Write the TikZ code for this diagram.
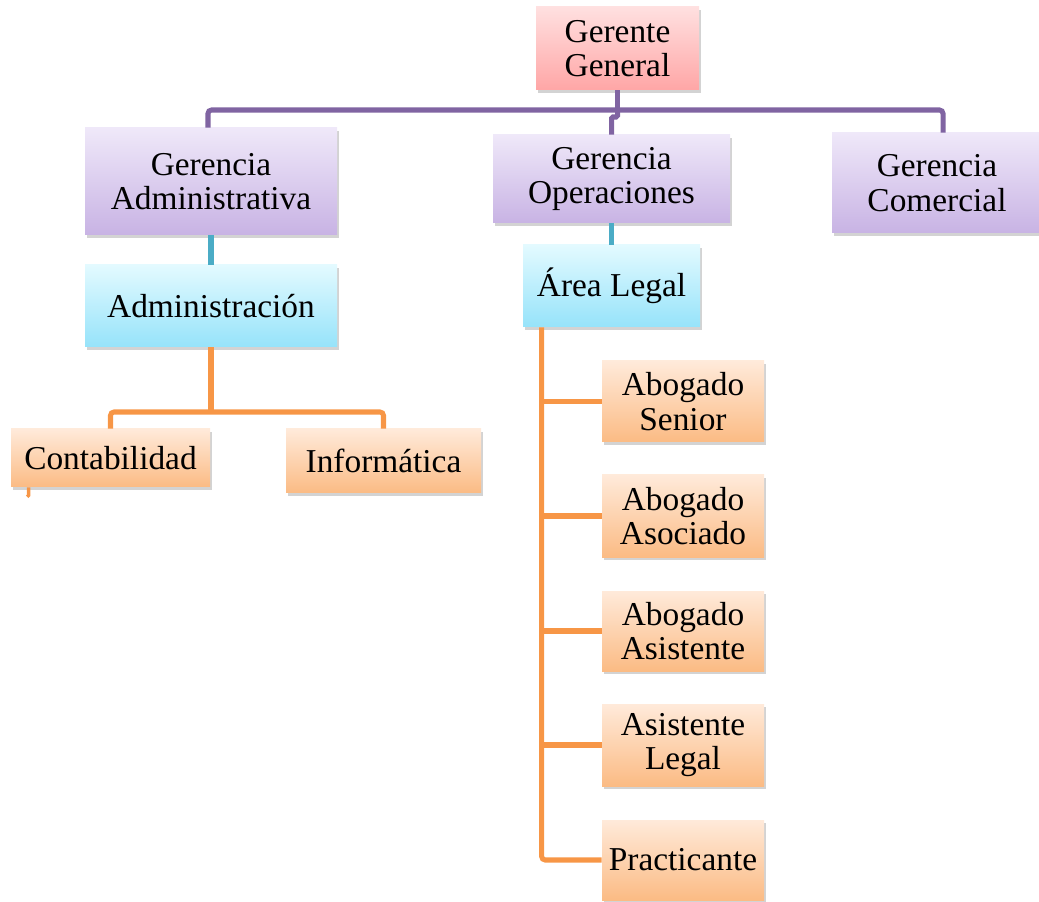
\documentclass[tikz,border=0pt]{standalone}
\usepackage{fontspec}
\setmainfont{Liberation Serif}
\usepackage{tikz}
\usetikzlibrary{calc}
\usetikzlibrary{shadows}
\definecolor{rosaA}{HTML}{FFE0E0}
\definecolor{rosaB}{HTML}{FFA6A6}
\definecolor{lilaA}{HTML}{EFE8F9}
\definecolor{lilaB}{HTML}{C8B3E4}
\definecolor{celA}{HTML}{E3FAFF}
\definecolor{celB}{HTML}{96E3FA}
\definecolor{narA}{HTML}{FFEADA}
\definecolor{narB}{HTML}{FBBB84}
\definecolor{lmor}{HTML}{8064A2}
\definecolor{lazul}{HTML}{4BACC6}
\definecolor{lnar}{HTML}{F79646}
\tikzset{bx/.style={rectangle, inner sep=0pt, align=center, font=\fontsize{19}{19.6}\selectfont,
  drop shadow={opacity=0.35, shadow xshift=1pt, shadow yshift=-1.5pt}}}
\tikzset{sz/.style 2 args={minimum width=#1*0.02cm, minimum height=#2*0.02cm}}
\tikzset{rosa/.style={bx, top color=rosaA, bottom color=rosaB}}
\tikzset{lila/.style={bx, top color=lilaA, bottom color=lilaB}}
\tikzset{cel/.style={bx, top color=celA, bottom color=celB}}
\tikzset{nar/.style={bx, top color=narA, bottom color=narB}}
\tikzset{lm/.style={lmor, line width=2.85pt, rounded corners=2pt}}
\tikzset{lz/.style={lazul, line width=2.85pt}}
\tikzset{ln/.style={lnar, line width=2.85pt, rounded corners=2pt}}

\begin{document}
\begin{tikzpicture}[x=0.02cm, y=-0.02cm]
  \useasboundingbox (0,0) rectangle (1039,902);
  % cargos
  \node[rosa, sz={163}{83}] (gg) at (617.5,48.5) {Gerente\\General};
  \node[lila, sz={252}{107}] (gadm) at (211,181.5) {Gerencia\\Administrativa};
  \node[lila, sz={237}{88}] (gop) at (611.5,179) {Gerencia\\Operaciones};
  \node[lila, sz={210}{100}] (gcom) at (937,183) {Gerencia\\Comercial};
  \node[cel, sz={252}{82}] (adm) at (211,306) {Administración};
  \node[cel, sz={177}{82}] (legal) at (611.5,286) {Área Legal};
  \node[nar, sz={199}{58}] (cont) at (110.5,458) {Contabilidad};
  \node[nar, sz={195}{64}] (inf) at (383.5,461) {Informática};
  \node[nar, sz={162}{81}] (senior) at (683,401.5) {Abogado\\Senior};
  \node[nar, sz={162}{82}] (asoc) at (683,516) {Abogado\\Asociado};
  \node[nar, sz={162}{80}] (asis) at (683,631) {Abogado\\Asistente};
  \node[nar, sz={162}{82}] (alegal) at (683,745) {Asistente\\Legal};
  \node[nar, sz={162}{80}] (prac) at (683,860) {Practicante};
  % lineas
  \coordinate (bus) at (617.5,110);
  \draw[lm] (gg.south) -- (bus);
  \draw[lm] ($(gadm.north)+(-3,0)$) |- (bus) -| ($(gcom.north)+(6,0)$);
  \draw[lm, rounded corners=0.8pt] (bus) -- ++(0,7) -| (gop.north);
  \draw[lz] (gadm.south) -- (adm.north);
  \draw[lz] (gop.south) -- (legal.north);
  \coordinate (abus) at (211,412);
  \draw[ln] (adm.south) -- (abus);
  \draw[ln] (cont.north) |- (abus) -| (inf.north);
  \draw[lnar, line width=2pt] ($(cont.south west)+(18,0)$) -- ++(0,8) -- ++(-1.5,1.5);
  \coordinate (lsp) at ($(legal.south west)+(19,0)$);
  \draw[ln] (lsp) |- (prac.west);
  \foreach \n in {senior,asoc,asis,alegal}
    \draw[ln] (lsp |- \n.west) -- (\n.west);
\end{tikzpicture}
\end{document}
